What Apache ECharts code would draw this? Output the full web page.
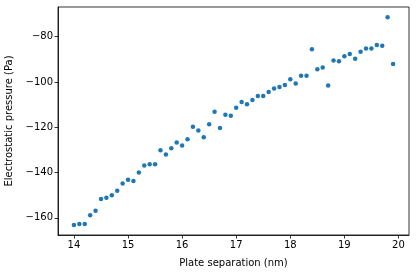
<!DOCTYPE html>
<html>
<head>
<meta charset="utf-8">
<script src="https://cdn.jsdelivr.net/npm/echarts@6/dist/echarts.min.js"></script>
<style>html,body{margin:0;padding:0;background:#fff}#c{width:416px;height:274px}</style>
</head>
<body>
<div id="c"></div>
<script>
const separation = [14.0,14.1,14.2,14.3,14.4,14.5,14.6,14.7,14.8,14.9,
  15.0,15.1,15.2,15.3,15.4,15.5,15.6,15.7,15.8,15.9,
  16.0,16.1,16.2,16.3,16.4,16.5,16.6,16.7,16.8,16.9,
  17.0,17.1,17.2,17.3,17.4,17.5,17.6,17.7,17.8,17.9,
  18.0,18.1,18.2,18.3,18.4,18.5,18.6,18.7,18.8,18.9,
  19.0,19.1,19.2,19.3,19.4,19.5,19.6,19.7,19.8,19.9];
const pressure = [-163.2,-162.7,-162.7,-158.9,-156.9,-151.7,-151.1,-150.0,-148.1,-144.9,
  -143.2,-143.7,-140.0,-136.9,-136.3,-136.3,-130.2,-132.0,-129.3,-126.8,
  -128.1,-125.3,-119.8,-121.5,-124.4,-118.7,-113.2,-120.3,-114.5,-114.9,
  -111.4,-108.9,-109.9,-108.0,-106.2,-106.2,-104.4,-102.9,-102.2,-101.3,
  -98.8,-100.7,-97.3,-97.3,-85.6,-94.4,-93.6,-101.6,-90.5,-90.9,
  -88.7,-87.7,-89.8,-86.7,-85.2,-85.2,-83.7,-84.0,-71.4,-92.1];
const xTicks = [14,15,16,17,18,19,20];
const yTicks = [-160,-140,-120,-100,-80];

const font = 'DejaVu Sans';
const fmt = v => String(v).replace('-', '\u2212');
const chart = echarts.init(document.getElementById('c'));
chart.setOption({
  animation: false,
  grid: {left: 58, right: 7, top: 7, bottom: 39, containLabel: false, outerBoundsMode: 'none',
    show: true, borderColor: '#000', borderWidth: 0.8, backgroundColor: 'transparent'},
  xAxis: {
    type: 'value', min: 13.705, max: 20.195,
    name: 'Plate separation (nm)', nameLocation: 'middle', nameGap: 23,
    nameTextStyle: {fontFamily: font, fontSize: 10, color: '#000'},
    axisLine: {show: true, lineStyle: {color: '#000', width: 0.8}},
    axisTick: {show: true, length: 3.5, lineStyle: {color: '#000', width: 0.8}, customValues: xTicks},
    axisLabel: {fontFamily: font, fontSize: 10, color: '#000', margin: 5, customValues: xTicks, formatter: fmt},
    splitLine: {show: false}
  },
  yAxis: {
    type: 'value', min: -167.6, max: -66.9,
    name: 'Electrostatic pressure (Pa)', nameLocation: 'middle', nameGap: 42, nameRotate: 90,
    nameTextStyle: {fontFamily: font, fontSize: 10, color: '#000'},
    axisLine: {show: true, lineStyle: {color: '#000', width: 0.8}},
    axisTick: {show: true, length: 3.5, lineStyle: {color: '#000', width: 0.8}, customValues: yTicks},
    axisLabel: {fontFamily: font, fontSize: 10, color: '#000', margin: 5, customValues: yTicks, formatter: fmt},
    splitLine: {show: false}
  },
  series: [{
    type: 'scatter',
    data: separation.map((x, i) => [x, pressure[i]]),
    symbolSize: 4.5,
    itemStyle: {color: '#1f77b4', opacity: 1}
  }]
});
</script>
</body>
</html>
